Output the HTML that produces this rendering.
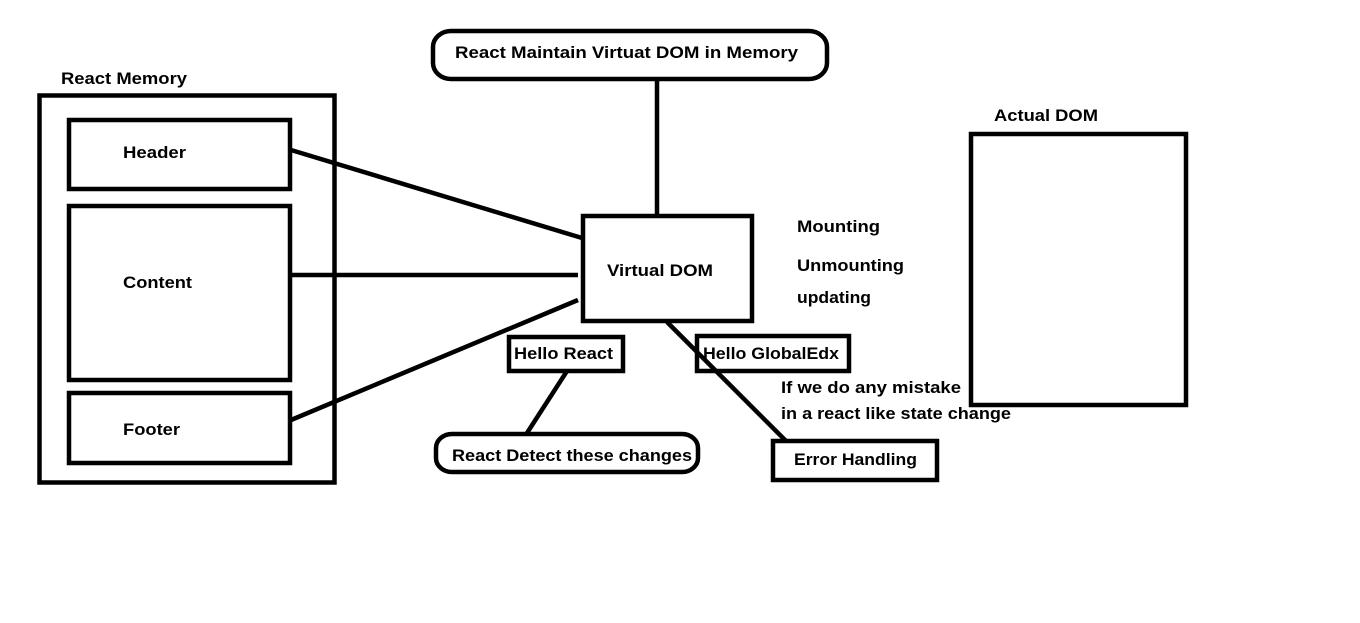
<!DOCTYPE html>
<html><head><meta charset="utf-8"><style>
html,body{margin:0;padding:0;background:#fff;}
svg{display:block}
text{font-family:"Liberation Sans",sans-serif;font-weight:bold;font-size:17px;fill:#000}
</style></head><body>
<svg width="1360" height="623" viewBox="0 0 1360 623" xmlns="http://www.w3.org/2000/svg">
<g fill="none" stroke="#000" stroke-width="4.5">
<rect x="39.5" y="95.5" width="295" height="387"/>
<rect x="69" y="120" width="221" height="69"/>
<rect x="69" y="206" width="221" height="174"/>
<rect x="69" y="393" width="221" height="70"/>
<rect x="583" y="216" width="169" height="105"/>
<rect x="433" y="31" width="394" height="48" rx="18" ry="16"/>
<rect x="971" y="134" width="215" height="271"/>
<rect x="509" y="337" width="114" height="34"/>
<rect x="697" y="336" width="152" height="35"/>
<rect x="436" y="434" width="262" height="38" rx="16" ry="14"/>
<rect x="773" y="441" width="164" height="39"/>
<line x1="291" y1="150" x2="582" y2="238"/>
<line x1="291" y1="275" x2="578" y2="275"/>
<line x1="291" y1="420" x2="578" y2="300"/>
<line x1="657" y1="80" x2="657" y2="215"/>
<line x1="667" y1="322" x2="786" y2="441"/>
<line x1="567" y1="371" x2="527" y2="433"/>
</g>
<text x="61" y="84" textLength="126" lengthAdjust="spacingAndGlyphs">React Memory</text>
<text x="123" y="158" textLength="63" lengthAdjust="spacingAndGlyphs">Header</text>
<text x="123" y="288" textLength="69" lengthAdjust="spacingAndGlyphs">Content</text>
<text x="123" y="435" textLength="57" lengthAdjust="spacingAndGlyphs">Footer</text>
<text x="607" y="276" textLength="106" lengthAdjust="spacingAndGlyphs">Virtual DOM</text>
<text x="455" y="58" textLength="343" lengthAdjust="spacingAndGlyphs">React Maintain Virtuat DOM in Memory</text>
<text x="797" y="232" textLength="83" lengthAdjust="spacingAndGlyphs">Mounting</text>
<text x="797" y="271" textLength="107" lengthAdjust="spacingAndGlyphs">Unmounting</text>
<text x="797" y="303" textLength="74" lengthAdjust="spacingAndGlyphs">updating</text>
<text x="994" y="121" textLength="104" lengthAdjust="spacingAndGlyphs">Actual DOM</text>
<text x="514" y="359" textLength="99" lengthAdjust="spacingAndGlyphs">Hello React</text>
<text x="703" y="359" textLength="136" lengthAdjust="spacingAndGlyphs">Hello GlobalEdx</text>
<text x="781" y="393" textLength="180" lengthAdjust="spacingAndGlyphs">If we do any mistake</text>
<text x="781" y="419" textLength="230" lengthAdjust="spacingAndGlyphs">in a react like state change</text>
<text x="452" y="461" textLength="240" lengthAdjust="spacingAndGlyphs">React Detect these changes</text>
<text x="794" y="465" textLength="123" lengthAdjust="spacingAndGlyphs">Error Handling</text>
</svg>
</body></html>
